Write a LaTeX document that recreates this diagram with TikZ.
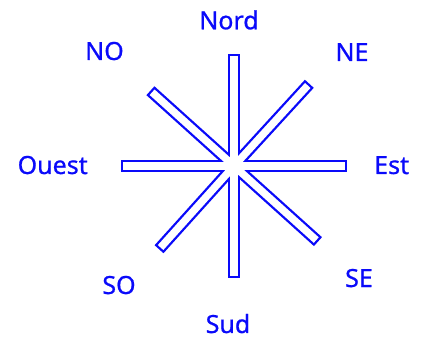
\documentclass[tikz,border=0pt]{standalone}
\usepackage{fontspec}
\setmainfont{Noto Sans}
\newfontfamily\lblfont{Noto Sans}[FakeBold=0.7]
\definecolor{rose}{RGB}{10,10,250}
\begin{document}
\begin{tikzpicture}[x=1pt,y=1pt,
  armstroke/.style={draw=rose,line width=4.6pt,line join=miter},
  armfill/.style={fill=white},
  lbl/.style={text=rose,font=\lblfont\fontsize{25}{30}\selectfont,inner sep=0pt,anchor=base}]
\useasboundingbox (0,0) rectangle (426,343);
\coordinate (c) at (234,177);
% outline of the union of the arms
\foreach \a/\l in {90/112,270/112,180/113,0/113,138/112.5,47.5/111.5,-42/113,228/112}
  \path[armstroke,shift={(c)},rotate=\a] (-3,-3.7) rectangle (\l-2.3,3.7);
\foreach \a/\l in {90/112,270/112,180/113,0/113,138/112.5,47.5/111.5,-42/113,228/112}
  \path[armfill,shift={(c)},rotate=\a] (-3,-3.7) rectangle (\l-2.3,3.7);
% labels
\node[lbl] (nord) at (229,313.7) {Nord};
\node[lbl] (no) at (104.5,283) {NO};
\node[lbl] (ne) at (352,282) {NE};
\node[lbl] (ouest) at (52.7,169) {Ouest};
\node[lbl] (est) at (391.7,169) {Est};
\node[lbl] (so) at (119,49) {SO};
\node[lbl] (se) at (359,56) {SE};
\node[lbl] (sud) at (228,10) {Sud};
\end{tikzpicture}
\end{document}
